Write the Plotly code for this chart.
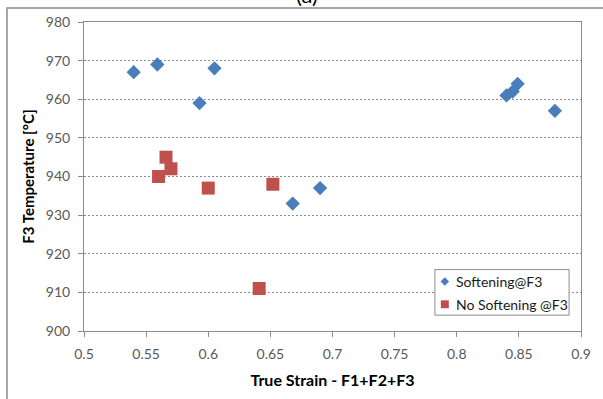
import plotly.graph_objects as go

# Data
soft_strain = [0.540, 0.559, 0.605, 0.593, 0.668, 0.690, 0.840, 0.845, 0.849, 0.879]
soft_temp = [967, 969, 968, 959, 933, 937, 961, 962, 964, 957]

nosoft_strain = [0.566, 0.570, 0.560, 0.600, 0.652, 0.641]
nosoft_temp = [945, 942, 940, 937, 938, 911]

x_ticks = [0.5, 0.55, 0.6, 0.65, 0.7, 0.75, 0.8, 0.85, 0.9]
x_ticklabels = ["0.5", "0.55", "0.6", "0.65", "0.7", "0.75", "0.8", "0.85", "0.9"]
y_ticks = [900, 910, 920, 930, 940, 950, 960, 970, 980]

series_names = ["Softening@F3", "No Softening @F3"]

BLUE = "#4A7EBB"
RED = "#C0504D"
FONT = "Lato, 'Open Sans', sans-serif"

fig = go.Figure()
fig.add_trace(go.Scatter(
    x=soft_strain, y=soft_temp, mode="markers", name=series_names[0],
    marker=dict(symbol="diamond", size=11, color=BLUE, line=dict(width=0)),
    showlegend=False,
))
fig.add_trace(go.Scatter(
    x=nosoft_strain, y=nosoft_temp, mode="markers", name=series_names[1],
    marker=dict(symbol="square", size=13, color=RED, line=dict(width=0)),
    showlegend=False,
))

axis_line = "#8C8C8C"
fig.update_layout(
    width=603, height=399,
    margin=dict(l=84, r=19, t=22, b=65),
    paper_bgcolor="white", plot_bgcolor="white",
    font=dict(family=FONT, size=14, color="#404040"),
    showlegend=False,
    xaxis=dict(
        range=[0.5, 0.9], tickmode="array", tickvals=x_ticks, ticktext=x_ticklabels,
        showgrid=False, zeroline=False,
        showline=True, linecolor=axis_line, linewidth=1, mirror=True,
        ticks="outside", ticklen=5, tickcolor=axis_line,
        ticklabelstandoff=5,
        tickfont=dict(family=FONT, size=14, color="#595959"),
        title=dict(text="<b>True Strain - F1+F2+F3</b>", standoff=14,
                   font=dict(family=FONT, size=16, color="#000000")),
    ),
    yaxis=dict(
        range=[900, 980], tickmode="array", tickvals=y_ticks,
        showgrid=True, gridcolor="#8C8C8C", gridwidth=1, griddash="2px,2px",
        zeroline=False,
        showline=True, linecolor=axis_line, linewidth=1, mirror=True,
        ticks="outside", ticklen=5, tickcolor=axis_line,
        ticklabelstandoff=5,
        tickfont=dict(family=FONT, size=14, color="#595959"),
        title=dict(text="<b>F3 Temperature [°C]</b>", standoff=7,
                   font=dict(family=FONT, size=15, color="#000000")),
    ),
)

# Outer chart border (partially outside the view, as in the reference)
fig.add_shape(type="rect", xref="paper", yref="paper",
              x0=-0.155, x1=1.08, y0=-0.26, y1=1.045,
              line=dict(color="#8C8C8C", width=1.5), layer="below")

# Legend box drawn in paper coordinates
fig.add_shape(type="rect", xref="paper", yref="paper",
              x0=0.706, x1=0.976, y0=0.0513, y1=0.1987,
              line=dict(color="#8C8C8C", width=1), fillcolor="white", layer="above")
# diamond symbol
cx, cy, hx, hy = 0.726, 0.1603, 0.0085, 0.0136
fig.add_shape(type="path", xref="paper", yref="paper",
              path=f"M {cx-hx} {cy} L {cx} {cy+hy} L {cx+hx} {cy} L {cx} {cy-hy} Z",
              fillcolor=BLUE, line=dict(width=0), layer="above")
# square symbol
cx, cy, hx, hy = 0.726, 0.0865, 0.008, 0.0128
fig.add_shape(type="rect", xref="paper", yref="paper",
              x0=cx-hx, x1=cx+hx, y0=cy-hy, y1=cy+hy,
              fillcolor=RED, line=dict(width=0), layer="above")
for name, yy in zip(series_names, [0.1603, 0.0865]):
    fig.add_annotation(text=name, xref="paper", yref="paper", x=0.744, y=yy,
                       xanchor="left", yanchor="middle", showarrow=False,
                       font=dict(family=FONT, size=14, color="#1a1a1a"))

# Cut-off panel title "(a)"
fig.add_annotation(text="(a)", xref="paper", yref="paper",
                   x=0.448, y=1.088, xanchor="center", yanchor="middle",
                   showarrow=False, font=dict(family=FONT, size=22, color="#000000"))

fig.write_html("out.html", config={"displayModeBar": False},
               post_script="document.body.style.margin='0';")
